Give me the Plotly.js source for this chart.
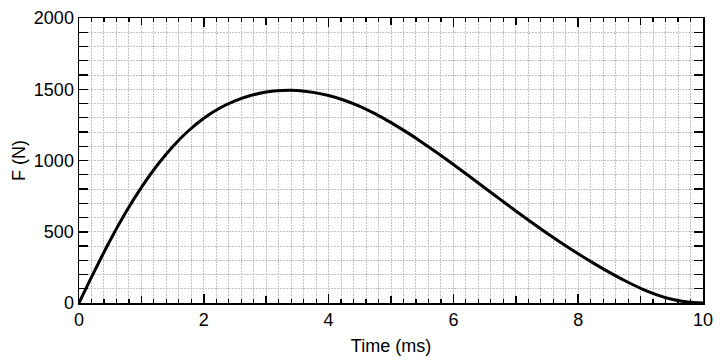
<!DOCTYPE html>
<html>
<head>
<meta charset="utf-8">
<script src="https://cdn.plot.ly/plotly-3.0.1.min.js"></script>
<style>html,body{margin:0;padding:0;background:#fff;}#chart{width:720px;height:360px;}</style>
</head>
<body>
<div id="chart"></div>
<script>
// Time (ms)
const timeMs = [0, 0.25, 0.5, 0.75, 1.0, 1.25, 1.5, 1.75, 2.0, 2.25, 2.5, 2.75, 3.0, 3.25, 3.5, 3.75, 4.0, 4.25, 4.5, 4.75, 5.0, 5.25, 5.5, 5.75, 6.0, 6.25, 6.5, 6.75, 7.0, 7.25, 7.5, 7.75, 8.0, 8.25, 8.5, 8.75, 9.0, 9.25, 9.5, 9.75, 10.0];
// Force F (N)
const forceN = [0, 225, 440, 637, 812, 965, 1097, 1207, 1297, 1367, 1419, 1456, 1480, 1491, 1491, 1478, 1456, 1423, 1380, 1327, 1266, 1199, 1127, 1051, 972, 891, 809, 727, 646, 567, 490, 416, 345, 278, 215, 156, 103, 59, 26, 7, 0];

const xTitle = 'Time (ms)';
const yTitle = 'F (N)';

const font = {family: 'Liberation Sans, Arial, Helvetica, sans-serif', color: '#000'};

const traces = [
  {x: timeMs, y: forceN, type: 'scatter', mode: 'lines',
   line: {color: '#000', width: 3, shape: 'spline', smoothing: 1},
   showlegend: false, hoverinfo: 'skip'},
  {x: [], y: [], xaxis: 'x2', type: 'scatter', mode: 'lines', showlegend: false, hoverinfo: 'skip'}
];

const gridStyle = {showgrid: true, gridcolor: '#c2c2c2', griddash: '2px,1px', gridwidth: 1};

const layout = {
  width: 720, height: 360,
  margin: {l: 79, r: 17, t: 18, b: 57},
  paper_bgcolor: '#fff', plot_bgcolor: '#fff',
  font: Object.assign({size: 18}, font),
  showlegend: false,
  xaxis: Object.assign({
    range: [0, 10], dtick: 2, tick0: 0,
    ticks: 'inside', ticklen: 9, tickwidth: 1.5, tickcolor: '#000',
    showline: true, linecolor: '#000', linewidth: 1.5, mirror: 'allticks',
    zeroline: false,
    tickfont: Object.assign({size: 18}, font),
    title: {text: xTitle, font: Object.assign({size: 18}, font), standoff: 10},
    minor: Object.assign({dtick: 0.2, ticks: 'inside', ticklen: 4, tickwidth: 1.2, tickcolor: '#000'}, gridStyle)
  }, gridStyle),
  xaxis2: {
    overlaying: 'x', anchor: 'y', side: 'bottom',
    range: [0, 10], dtick: 1, tick0: 0,
    ticks: 'inside', ticklen: 7, tickwidth: 1.5, tickcolor: '#000',
    showticklabels: false, showgrid: false, zeroline: false,
    showline: false, mirror: 'allticks'
  },
  yaxis: Object.assign({
    range: [0, 2000], dtick: 500, tick0: 0,
    ticks: 'inside', ticklen: 9, tickwidth: 1.5, tickcolor: '#000',
    showline: true, linecolor: '#000', linewidth: 1.5, mirror: 'allticks',
    zeroline: false,
    tickfont: Object.assign({size: 18}, font),
    title: {text: yTitle, font: Object.assign({size: 18}, font), standoff: 3},
    minor: Object.assign({dtick: 100, ticks: 'inside', ticklen: 5, tickwidth: 1.2, tickcolor: '#000'}, gridStyle)
  }, gridStyle)
};

Plotly.newPlot('chart', traces, layout, {displayModeBar: false, staticPlot: true});
</script>
</body>
</html>
